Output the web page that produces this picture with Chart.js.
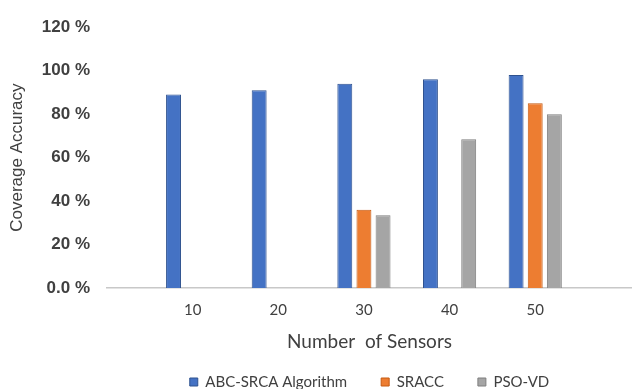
<!DOCTYPE html>
<html>
<head>
<meta charset="utf-8">
<script src="https://cdn.jsdelivr.net/npm/chart.js@4/dist/chart.umd.min.js"></script>
<style>
  html, body { margin: 0; padding: 0; background: #fff; }
  #wrap { width: 632px; height: 389px; }
</style>
</head>
<body>
<div id="wrap"><canvas id="canvas"></canvas></div>
<script>
// number of sensors on the x axis
var sensors = [10, 20, 30, 40, 50];
// coverage accuracy (%) per method, null where no bar is drawn
var abcSrca = [89, 91, 94, 96, 98];
var sracc = [null, null, 36, null, 85];
var psoVd = [null, null, 33.5, 68.5, 80];
var yTicks = [0, 20, 40, 60, 80, 100, 120];

var textColor = '#404040';
var legendPad = 34;

function points(values) {
  return sensors.map(function (s, i) { return { x: s, y: values[i] }; });
}

// legend sits under the plot area (centred on it) and close to the bottom edge
var legendPlace = {
  id: 'legendPlace',
  afterLayout: function (chart) {
    var lg = chart.legend;
    var area = chart.chartArea;
    var h = lg.height;
    lg.top = 382 - legendPad - 7.5;
    lg.bottom = lg.top + h;
    var dx = (area.left + area.right) / 2 - (lg.left + lg.right) / 2;
    lg.left += dx;
    lg.right += dx;
  }
};

var ctx = document.getElementById('canvas');
var chart = new Chart(ctx, {
  type: 'bar',
  data: {
    datasets: [
      { label: 'ABC-SRCA Algorithm', data: points(abcSrca), backgroundColor: '#4472C4', borderColor: '#2F528F', borderWidth: 1 },
      { label: 'SRACC', data: points(sracc), backgroundColor: '#ED7D31', borderColor: '#C55A11', borderWidth: 1 },
      { label: 'PSO-VD', data: points(psoVd), backgroundColor: '#A5A5A5', borderColor: '#7F7F7F', borderWidth: 1 }
    ]
  },
  options: {
    responsive: true,
    maintainAspectRatio: false,
    animation: false,
    categoryPercentage: 0.67,
    barPercentage: 0.78,
    // negative bottom padding keeps the plot bottom at the same place whatever the legend spacing
    layout: { padding: { top: 21, left: 0, right: 0, bottom: 10 - legendPad } },
    plugins: {
      tooltip: { enabled: false },
      legend: {
        position: 'bottom',
        labels: {
          boxWidth: 8,
          boxHeight: 8,
          padding: legendPad,
          color: textColor,
          font: { family: 'Lato', size: 15 }
        }
      }
    },
    scales: {
      x: {
        type: 'linear',
        offset: false,
        min: 0,
        max: 61.3,
        afterBuildTicks: function (scale) {
          scale.ticks = sensors.map(function (s) { return { value: s }; });
        },
        afterFit: function (scale) { scale.height = 66; },
        grid: { display: false, drawTicks: false },
        border: { display: true, color: '#C8C8C8', width: 1.5 },
        ticks: { color: textColor, padding: 13, font: { family: 'Lato', size: 15 } },
        title: {
          display: true,
          text: 'Number  of Sensors',
          color: textColor,
          font: { family: 'Lato', size: 19 },
          padding: { top: 10, bottom: 1 }
        }
      },
      y: {
        min: 0,
        max: 120,
        afterBuildTicks: function (scale) {
          scale.ticks = yTicks.map(function (v) { return { value: v }; });
        },
        afterFit: function (scale) { scale.width = 107; },
        grid: { display: false, drawTicks: false },
        border: { display: false },
        ticks: {
          color: textColor,
          padding: 17,
          font: { family: 'Liberation Sans', size: 17, weight: 'bold' },
          callback: function (v) { return v === 0 ? '0.0 %' : v + ' %'; }
        },
        title: {
          display: true,
          text: 'Coverage Accuracy',
          color: textColor,
          font: { family: 'Liberation Sans', size: 17 },
          padding: { top: 7, bottom: 0 }
        }
      }
    }
  },
  plugins: [legendPlace]
});
</script>
</body>
</html>
